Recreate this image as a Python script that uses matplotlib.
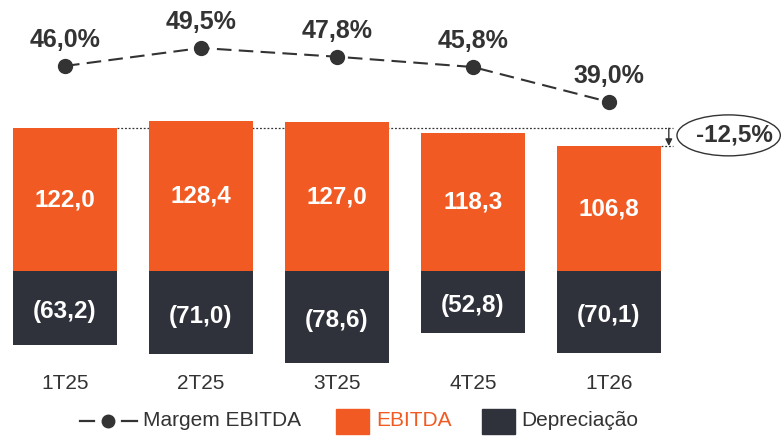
import matplotlib
matplotlib.use("Agg")
import matplotlib.pyplot as plt
from matplotlib.patches import Ellipse, Rectangle

plt.rcParams['font.family'] = ['Liberation Sans', 'DejaVu Sans']

categories = ['1T25', '2T25', '3T25', '4T25', '1T26']
ebitda = [122.0, 128.4, 127.0, 118.3, 106.8]
depreciacao = [-63.2, -71.0, -78.6, -52.8, -70.1]
margem = [46.0, 49.5, 47.8, 45.8, 39.0]
variacao_label = '-12,5%'
legend_labels = ['Margem EBITDA', 'EBITDA', 'Depreciação']

ORANGE = '#F15A22'
DARK = '#30323B'
TXT = '#333333'

def fmt(v, pct=False):
    s = f"{abs(v):.1f}".replace('.', ',')
    if pct:
        return s + '%'
    return f"({s})" if v < 0 else s

fig = plt.figure(figsize=(7.81, 4.41), dpi=100)
ax = fig.add_axes([0, 0, 1, 1])
ax.set_xlim(-0.478, 5.265)
ax.set_ylim(-145.3, 231.6)
ax.axis('off')

x = list(range(len(categories)))
w = 0.765
ax.bar(x, ebitda, width=w, color=ORANGE, zorder=2)
ax.bar(x, depreciacao, width=w, color=DARK, zorder=2)

for i in x:
    ax.text(i, ebitda[i] / 2, fmt(ebitda[i]), ha='center', va='center',
            color='white', fontsize=17.5, fontweight='bold', zorder=3)
    ax.text(i, depreciacao[i] / 2 - 3, fmt(depreciacao[i]), ha='center', va='center',
            color='white', fontsize=17.5, fontweight='bold', zorder=3)
    ax.text(i, -96, categories[i], ha='center', va='center', color=TXT, fontsize=15)

# reference dotted line and arrow
xa = 4.44
ax.plot([w / 2, xa + 0.03], [ebitda[0], ebitda[0]], color=TXT, lw=0.9,
        ls=(0, (1.5, 1.5)), zorder=1)
ax.plot([4 + w / 2, xa + 0.03], [ebitda[-1], ebitda[-1]], color=TXT, lw=0.9,
        ls=(0, (1.5, 1.5)), zorder=1)
ax.annotate('', xy=(xa, ebitda[-1]), xytext=(xa, ebitda[0]),
            arrowprops=dict(arrowstyle='-|>', color=TXT, lw=1, mutation_scale=10,
                            shrinkA=0, shrinkB=0))
yc = (ebitda[0] + ebitda[-1]) / 2 + 1.5
ax.add_patch(Ellipse((4.88, yc), 0.76, 35, fill=False, edgecolor=TXT, lw=1))
ax.text(4.925, yc, variacao_label, ha='center', va='center',
        fontsize=17.5, fontweight='bold', color=TXT)

ax2 = ax.twinx()
ax2.set_position([0, 0, 1, 1])
ax2.set_ylim(-26.96, 58.84)
ax2.set_xlim(-0.478, 5.265)
ax2.axis('off')
ax2.plot(x, margem, color=TXT, lw=1.5, ls=(0, (7, 3.5)), marker='o',
         markersize=10, markerfacecolor=TXT, markeredgecolor=TXT)
for i in x:
    ax2.annotate(fmt(margem[i], pct=True), (i, margem[i]), xytext=(0, 13.5),
                 textcoords='offset points', ha='center', va='baseline',
                 fontsize=18, fontweight='bold', color=TXT)

# manual legend in pixel coordinates
lg = fig.add_axes([0, 0, 1, 1], zorder=5)
lg.set_xlim(0, 781)
lg.set_ylim(441, 0)
lg.axis('off')
lg.plot([80, 94], [421, 421], color=TXT, lw=1.6)
lg.plot([122, 137], [421, 421], color=TXT, lw=1.6)
lg.plot([108], [421], marker='o', markersize=9, color=TXT)
lg.text(143, 421, legend_labels[0], ha='left', va='center', fontsize=15, color=TXT)
lg.add_patch(Rectangle((336, 408.5), 33, 25, color=ORANGE))
lg.text(376, 421, legend_labels[1], ha='left', va='center', fontsize=15, color=ORANGE)
lg.add_patch(Rectangle((482, 408.5), 33, 25, color=DARK))
lg.text(521, 421, legend_labels[2], ha='left', va='center', fontsize=15, color=TXT)

fig.savefig('out.png', dpi=100)
